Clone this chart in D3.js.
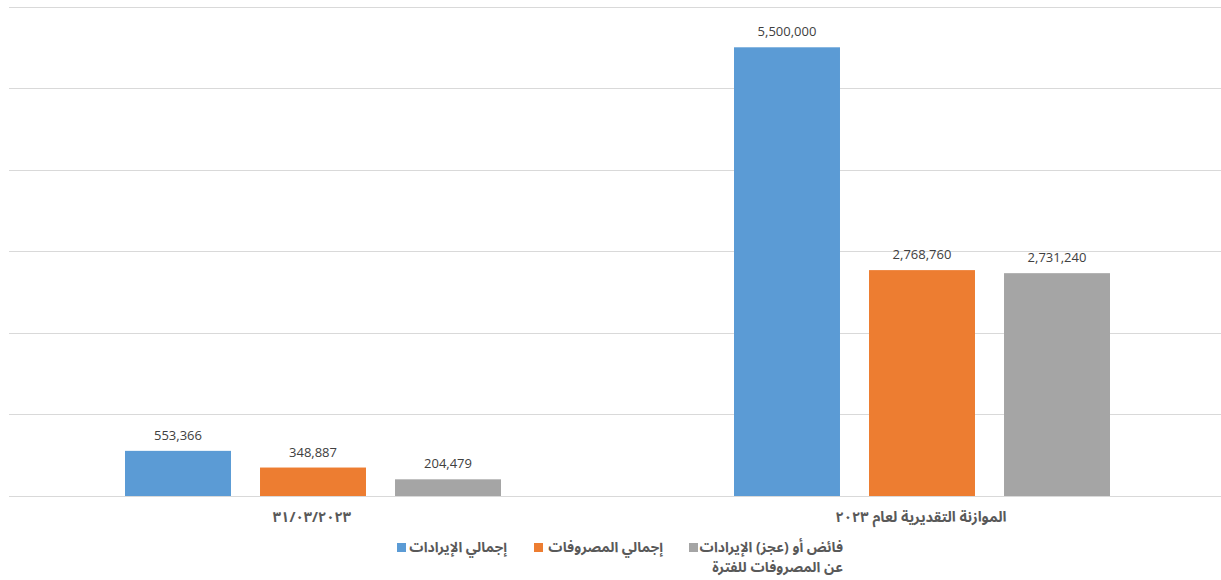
<!DOCTYPE html>
<html><head><meta charset="utf-8">
<script src="https://cdn.jsdelivr.net/npm/d3@7"></script>
<style>body{margin:0;background:#fff}svg{display:block}</style>
</head><body>
<svg id="c" width="1221" height="580"></svg>
<script>
const categories = ["٣١/٠٣/٢٠٢٣", "الموازنة التقديرية لعام ٢٠٢٣"];
const seriesNames = ["إجمالي الإيرادات", "إجمالي المصروفات", "فائض أو (عجز) الإيرادات عن المصروفات للفترة"];
const revenues = [553366, 5500000];
const expenses = [348887, 2768760];
const surplus = [204479, 2731240];
const yTicks = [0, 1000000, 2000000, 3000000, 4000000, 5000000, 6000000];
const colors = ["#5B9BD5", "#ED7D31", "#A5A5A5"];

const series = [revenues, expenses, surplus];
const svg = d3.select("#c");
const arabicFont = "'Noto Sans Arabic','DejaVu Sans',sans-serif";
const numFont = "'Open Sans','Liberation Sans',sans-serif";

const x0 = d3.scaleBand().domain(categories).range([8.5, 1226.5]).padding(0);
const x1 = d3.scaleBand().domain(d3.range(3)).range([0, x0.bandwidth()]).paddingInner(0.215).paddingOuter(0.863);
const y = d3.scaleLinear().domain([0, 6000000]).range([496, 6.5]);

// grid
svg.append("g").selectAll("line").data(yTicks).join("line")
  .attr("x1", 9).attr("x2", 1221)
  .attr("y1", d => Math.round(y(d)) + 0.5).attr("y2", d => Math.round(y(d)) + 0.5)
  .attr("stroke", "#d9d9d9").attr("stroke-width", 1);

// bars
const g = svg.append("g");
categories.forEach((c, ci) => {
  series.forEach((s, si) => {
    const v = s[ci];
    const bx = x0(c) + x1(si);
    g.append("rect").attr("x", bx).attr("y", y(v))
      .attr("width", x1.bandwidth()).attr("height", y(0) - y(v))
      .attr("fill", colors[si]);
    g.append("text").attr("x", bx + x1.bandwidth() / 2).attr("y", y(v) - 11)
      .attr("text-anchor", "middle").attr("font-family", numFont)
      .attr("font-size", 13).attr("fill", "#404040")
      .text(d3.format(",")(v));
  });
});

// category labels
svg.append("g").selectAll("text").data(categories).join("text")
  .attr("x", d => x0(d) + x0.bandwidth() / 2 - 1)
  .attr("y", 522)
  .attr("text-anchor", "middle").attr("font-family", arabicFont)
  .attr("font-size", 14.5).attr("font-weight", "bold").attr("fill", "#595959")
  .text(d => d);

// legend
const legendItems = [
  { i: 0, sq: 397, right: 507, lines: [seriesNames[0]] },
  { i: 1, sq: 534, right: 663, lines: [seriesNames[1]] },
  { i: 2, sq: 689, right: 843, lines: ["فائض أو (عجز) الإيرادات", "عن المصروفات للفترة"] }
];
const lg = svg.append("g");
legendItems.forEach(it => {
  lg.append("rect").attr("x", it.sq).attr("y", 543).attr("width", 9).attr("height", 9).attr("fill", colors[it.i]);
  it.lines.forEach((l, li) => {
    lg.append("text").attr("x", it.right).attr("y", 552 + li * 20)
      .attr("text-anchor", "end").attr("font-family", arabicFont)
      .attr("font-size", 14).attr("font-weight", "bold").attr("fill", "#595959")
      .text(l);
  });
});
</script>
</body></html>
